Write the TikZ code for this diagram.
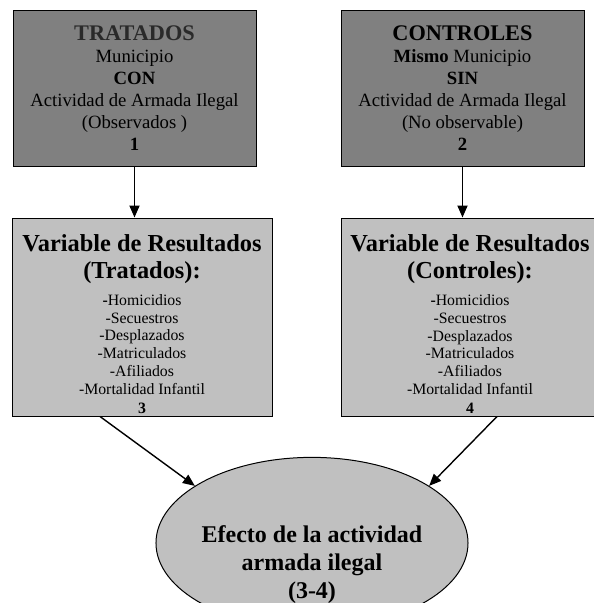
\documentclass[tikz,border=0pt]{standalone}
\usepackage{fontspec}
\setmainfont{Liberation Serif}
\usetikzlibrary{arrows.meta,shapes.geometric}
\definecolor{darkfill}{HTML}{808080}
\definecolor{lightfill}{HTML}{C0C0C0}
\definecolor{headgray}{HTML}{2A2A2A}
\tikzset{
  groupbox/.style={draw=black, line width=1pt, fill=darkfill, align=center,
    minimum width=243pt, minimum height=156pt, inner sep=0pt,
    font=\fontsize{18.7}{22}\selectfont},
  resultbox/.style={draw=black, line width=1pt, fill=lightfill, align=center,
    minimum height=198pt, inner sep=0pt,
    font=\fontsize{15.8}{17.8}\selectfont},
  effectnode/.style={ellipse, draw=black, line width=1pt, fill=lightfill, align=center,
    minimum width=310pt, minimum height=156pt, inner sep=0pt,
    font=\bfseries\fontsize{24}{28}\selectfont},
  flow/.style={line width=1.8pt, -{Triangle[length=12pt,width=10pt]}},
  flowdiag/.style={line width=1.4pt, -{Triangle[length=12pt,width=10pt]}}
}
\newcommand{\headline}[1]{{\bfseries\fontsize{24.4}{27}\selectfont #1}}
\begin{document}
\begin{tikzpicture}[x=1pt,y=-1pt]
  \useasboundingbox (0,0) rectangle (594,603);
  \begin{scope}
  \clip (0,0) rectangle (594,603);
  % upper row
  \node[groupbox] (trat) at (134.5,88.5) {{\bfseries\color{headgray}\fontsize{22.3}{22}\selectfont TRATADOS}\\
    Municipio\\ \textbf{CON}\\ Actividad de Armada Ilegal\\ (Observados )\\ \textbf{1}};
  \node[groupbox] (ctrl) at (462.5,88) {{\bfseries\fontsize{22.3}{22}\selectfont CONTROLES}\\
    \textbf{Mismo} Municipio\\ \textbf{SIN}\\ Actividad de Armada Ilegal\\ (No observable)\\ \textbf{2}};
  % result boxes
  \node[resultbox, minimum width=260pt] (rtrat) at (142,317) {\rule{0pt}{31pt}\headline{Variable de Resultados}\\[9pt]
    \headline{(Tratados):}\\[9pt]
    \textbf{-}Homicidios\\ -Secuestros\\ -Desplazados\\ -Matriculados\\ -Afiliados\\ -Mortalidad Infantil\\[1pt] \textbf{3}};
  \node[resultbox, minimum width=258pt] (rctrl) at (470,317) {\rule{0pt}{31pt}\headline{Variable de Resultados}\\[9pt]
    \headline{(Controles):}\\[9pt]
    \textbf{-}Homicidios\\ -Secuestros\\ -Desplazados\\ -Matriculados\\ -Afiliados\\ -Mortalidad Infantil\\[1pt] \textbf{4}};
  % effect
  \node[effectnode] (eff) at (312,543) {\rule{0pt}{60pt}Efecto de la actividad\\ armada ilegal\\ (3-4)};
  % connectors
  \draw[flow] (trat.south) -- (trat.south |- rtrat.north);
  \draw[flow] (ctrl.south) -- (ctrl.south |- rctrl.north);
  \draw[flowdiag] ([xshift=-42pt]rtrat.south) -- (eff.154);
  \draw[flowdiag] ([xshift=27pt]rctrl.south) -- (eff.26);
  \end{scope}
\end{tikzpicture}
\end{document}
